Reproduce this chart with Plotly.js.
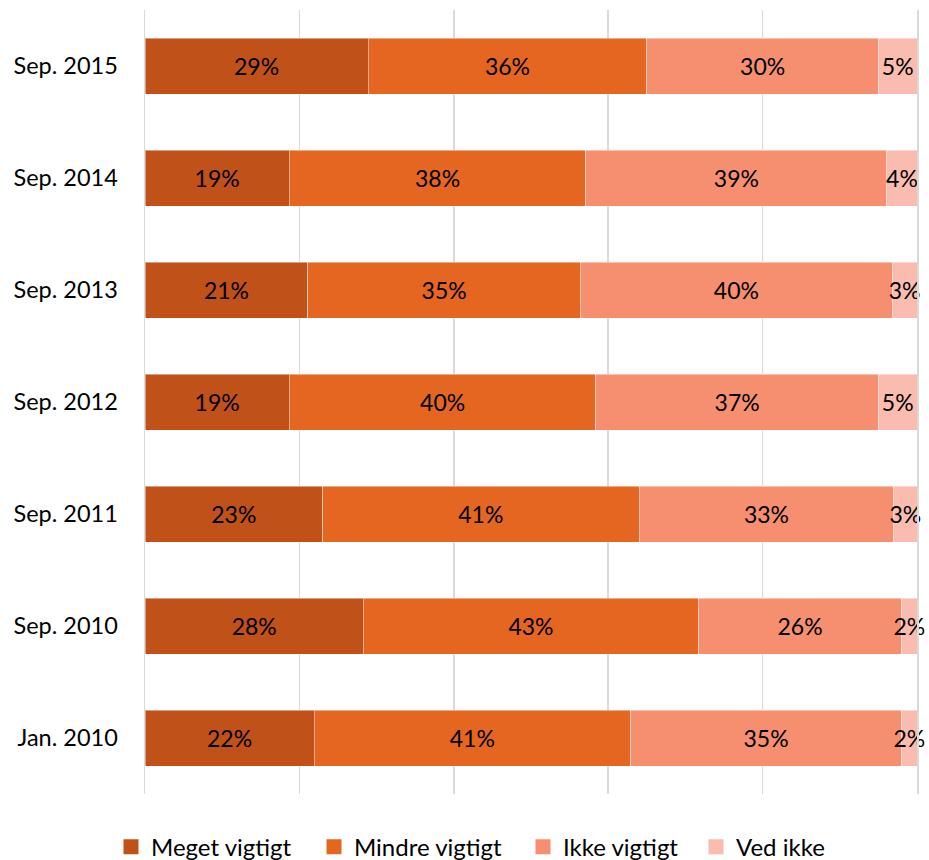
<!DOCTYPE html>
<html>
<head>
<meta charset="utf-8">
<script src="https://cdn.plot.ly/plotly-3.0.1.min.js"></script>
<style>html,body{margin:0;padding:0;background:#fff;}#chart{width:929px;height:860px;}</style>
</head>
<body>
<div id="chart"></div>
<script>
// Categories (bottom to top)
const categories = ["Jan. 2010", "Sep. 2010", "Sep. 2011", "Sep. 2012", "Sep. 2013", "Sep. 2014", "Sep. 2015"];
// Series values (%)
const megetVigtigt  = [21.9, 28.3, 23.0, 18.7, 21.1, 18.7, 28.9];
const mindreVigtigt = [41.0, 43.4, 41.0, 39.7, 35.3, 38.4, 36.1];
const ikkeVigtigt   = [35.1, 26.3, 33.0, 36.6, 40.4, 39.0, 30.0];
const vedIkke       = [2.0, 2.0, 3.0, 5.0, 3.2, 3.9, 5.0];
const seriesNames = ["Meget vigtigt", "Mindre vigtigt", "Ikke vigtigt", "Ved ikke"];
const xTicks = [0, 20, 40, 60, 80, 100];

const colors = ["#C05118", "#E46620", "#F58F70", "#F9BCAF"];
const FONT = "Lato, 'Open Sans', sans-serif";
const seriesValues = [megetVigtigt, mindreVigtigt, ikkeVigtigt, vedIkke];
const legendIds = ["legend", "legend2", "legend3", "legend4"];
const legendX = [111, 314, 523, 696];

const barTraces = seriesValues.map((vals, i) => ({
  type: "bar",
  orientation: "h",
  name: seriesNames[i],
  showlegend: false,
  y: categories,
  x: vals,
  marker: {color: colors[i], line: {color: "rgba(255,255,255,0.45)", width: 1}},
  texttemplate: "%{x:.0f}%",
  textposition: "inside",
  insidetextanchor: "middle",
  textangle: 0,
  constraintext: "none",
  textfont: {family: FONT, size: 23, color: "#000"},
  cliponaxis: false,
  hoverinfo: "skip"
}));

// legend-only entries (no data) to get larger square swatches
const legendTraces = seriesNames.map((n, i) => ({
  type: "scatter",
  mode: "markers",
  name: n,
  legend: legendIds[i],
  x: [null],
  y: [null],
  marker: {symbol: "square", size: 15, color: colors[i]},
  hoverinfo: "skip"
}));

const layout = {
  width: 929,
  height: 860,
  barmode: "stack",
  bargap: 0.5,
  margin: {l: 145, r: 12, t: 10, b: 66},
  paper_bgcolor: "#fff",
  plot_bgcolor: "#fff",
  font: {family: FONT, size: 23, color: "#000"},
  xaxis: {
    range: [0, 100],
    tickvals: xTicks,
    showticklabels: false,
    showgrid: true,
    gridcolor: "#D9D9D9",
    gridwidth: 1.5,
    zeroline: false,
    showline: false,
    ticks: ""
  },
  yaxis: {
    type: "category",
    categoryorder: "array",
    categoryarray: categories,
    showgrid: false,
    zeroline: false,
    showline: true,
    mirror: true,
    linecolor: "#D9D9D9",
    linewidth: 1.5,
    ticks: "outside",
    ticklen: 21,
    tickcolor: "rgba(0,0,0,0)",
    tickfont: {family: FONT, size: 23.5, color: "#000"}
  },
  showlegend: true
};

legendIds.forEach((id, i) => {
  layout[id] = {
    orientation: "h",
    xref: "container",
    yref: "container",
    x: legendX[i] / 929,
    xanchor: "left",
    y: 0.015,
    yanchor: "middle",
    font: {family: FONT, size: 24, color: "#000"},
    itemwidth: 30,
    itemsizing: "trace",
    bgcolor: "rgba(0,0,0,0)"
  };
});

Plotly.newPlot("chart", barTraces.concat(legendTraces), layout, {displayModeBar: false, staticPlot: true});
</script>
</body>
</html>
